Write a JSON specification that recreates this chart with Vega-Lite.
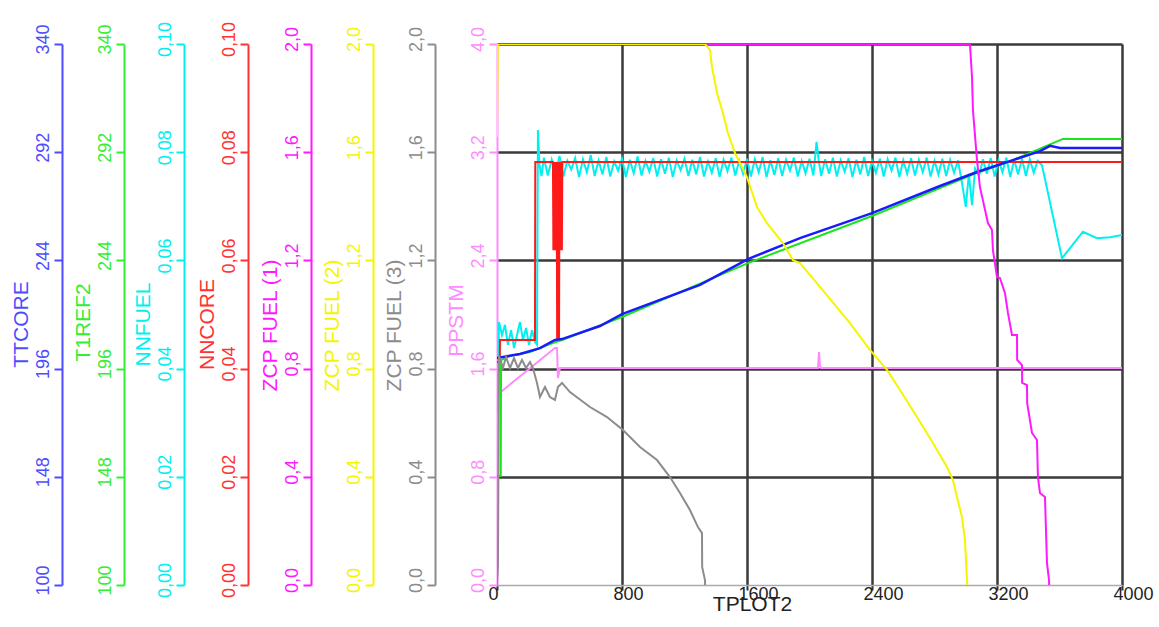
{
  "$schema": "https://vega.github.io/schema/vega-lite/v6.json",
  "width": 625,
  "height": 541,
  "autosize": {"type": "none"},
  "padding": {"left": 497, "top": 44, "right": 37, "bottom": 42},
  "background": "white",
  "config": {"view": {"stroke": null}, "axis": {"labelOverlap": false, "labelFlush": false}},
  "datasets": {
    "ppstm": [
      {"t": 0, "v": 1.405}, {"t": 371, "v": 1.752}, {"t": 384, "v": 1.752}, {"t": 390, "v": 1.53}, {"t": 403, "v": 1.604},
      {"t": 2054, "v": 1.604}, {"t": 2061, "v": 1.723}, {"t": 2067, "v": 1.619}, {"t": 2074, "v": 1.604}, {"t": 4000, "v": 1.604}
    ],
    "nnfuel": [
      {"t": 0, "v": 0.032}, {"t": 6, "v": 0.0379}, {"t": 13, "v": 0.0486}, {"t": 32, "v": 0.0462}, {"t": 51, "v": 0.0481},
      {"t": 70, "v": 0.0444}, {"t": 90, "v": 0.0471}, {"t": 109, "v": 0.0438}, {"t": 128, "v": 0.0462}, {"t": 147, "v": 0.0486},
      {"t": 166, "v": 0.0453}, {"t": 186, "v": 0.0475}, {"t": 205, "v": 0.0444}, {"t": 224, "v": 0.0471}, {"t": 243, "v": 0.0449},
      {"t": 256, "v": 0.0444}, {"t": 262, "v": 0.0841}, {"t": 272, "v": 0.0776}, {"t": 285, "v": 0.0756},
      {"t": 300, "v": 0.079}, {"t": 325, "v": 0.0757}, {"t": 350, "v": 0.0786}, {"t": 375, "v": 0.076}, {"t": 400, "v": 0.0793},
      {"t": 425, "v": 0.0755}, {"t": 450, "v": 0.0784}, {"t": 475, "v": 0.0768}, {"t": 500, "v": 0.0789}, {"t": 525, "v": 0.0754},
      {"t": 550, "v": 0.0787}, {"t": 575, "v": 0.0763}, {"t": 600, "v": 0.0795}, {"t": 625, "v": 0.0756}, {"t": 650, "v": 0.0785},
      {"t": 675, "v": 0.0759}, {"t": 700, "v": 0.0791}, {"t": 725, "v": 0.0755}, {"t": 750, "v": 0.0783}, {"t": 775, "v": 0.0766},
      {"t": 800, "v": 0.0788}, {"t": 825, "v": 0.0754}, {"t": 850, "v": 0.0786}, {"t": 875, "v": 0.0761}, {"t": 900, "v": 0.0792},
      {"t": 925, "v": 0.0757}, {"t": 950, "v": 0.0784}, {"t": 975, "v": 0.0764}, {"t": 1000, "v": 0.0789}, {"t": 1025, "v": 0.0755},
      {"t": 1050, "v": 0.0787}, {"t": 1075, "v": 0.076}, {"t": 1100, "v": 0.079}, {"t": 1125, "v": 0.0754}, {"t": 1150, "v": 0.0785},
      {"t": 1175, "v": 0.0767}, {"t": 1200, "v": 0.0788}, {"t": 1225, "v": 0.0756}, {"t": 1250, "v": 0.0786}, {"t": 1275, "v": 0.0759},
      {"t": 1300, "v": 0.0791}, {"t": 1325, "v": 0.0755}, {"t": 1350, "v": 0.0783}, {"t": 1375, "v": 0.0762}, {"t": 1400, "v": 0.0789},
      {"t": 1425, "v": 0.0754}, {"t": 1450, "v": 0.0786}, {"t": 1475, "v": 0.0765}, {"t": 1500, "v": 0.079}, {"t": 1525, "v": 0.0757},
      {"t": 1550, "v": 0.0784}, {"t": 1575, "v": 0.076}, {"t": 1600, "v": 0.0788}, {"t": 1625, "v": 0.0755}, {"t": 1650, "v": 0.0787},
      {"t": 1675, "v": 0.0763}, {"t": 1700, "v": 0.0791}, {"t": 1725, "v": 0.0754}, {"t": 1750, "v": 0.0785}, {"t": 1775, "v": 0.0758},
      {"t": 1800, "v": 0.0789}, {"t": 1825, "v": 0.0756}, {"t": 1850, "v": 0.0786}, {"t": 1875, "v": 0.0766}, {"t": 1900, "v": 0.079},
      {"t": 1925, "v": 0.0755}, {"t": 1950, "v": 0.0784}, {"t": 1975, "v": 0.0761}, {"t": 2000, "v": 0.0788}, {"t": 2025, "v": 0.0757},
      {"t": 2045, "v": 0.0819}, {"t": 2060, "v": 0.0782}, {"t": 2075, "v": 0.0756}, {"t": 2100, "v": 0.0787}, {"t": 2125, "v": 0.076},
      {"t": 2150, "v": 0.079}, {"t": 2175, "v": 0.0755}, {"t": 2200, "v": 0.0785}, {"t": 2225, "v": 0.0764}, {"t": 2250, "v": 0.0789},
      {"t": 2275, "v": 0.0754}, {"t": 2300, "v": 0.0786}, {"t": 2325, "v": 0.0759}, {"t": 2350, "v": 0.0791}, {"t": 2375, "v": 0.0756},
      {"t": 2400, "v": 0.0784}, {"t": 2425, "v": 0.0762}, {"t": 2450, "v": 0.0788}, {"t": 2475, "v": 0.0755}, {"t": 2500, "v": 0.0787},
      {"t": 2525, "v": 0.0766}, {"t": 2550, "v": 0.079}, {"t": 2575, "v": 0.0754}, {"t": 2600, "v": 0.0785}, {"t": 2625, "v": 0.076},
      {"t": 2650, "v": 0.0789}, {"t": 2675, "v": 0.0757}, {"t": 2700, "v": 0.0786}, {"t": 2725, "v": 0.0763}, {"t": 2750, "v": 0.079},
      {"t": 2775, "v": 0.0755}, {"t": 2800, "v": 0.0784}, {"t": 2825, "v": 0.0759}, {"t": 2850, "v": 0.0788}, {"t": 2875, "v": 0.0756},
      {"t": 2900, "v": 0.0786}, {"t": 2925, "v": 0.0762}, {"t": 2950, "v": 0.0785}, {"t": 2975, "v": 0.0745}, {"t": 3000, "v": 0.0699},
      {"t": 3020, "v": 0.076}, {"t": 3040, "v": 0.0702}, {"t": 3060, "v": 0.077}, {"t": 3085, "v": 0.0756}, {"t": 3110, "v": 0.0787},
      {"t": 3135, "v": 0.076}, {"t": 3160, "v": 0.0789}, {"t": 3185, "v": 0.0755}, {"t": 3210, "v": 0.0785}, {"t": 3235, "v": 0.0763},
      {"t": 3260, "v": 0.079}, {"t": 3285, "v": 0.0754}, {"t": 3310, "v": 0.0786}, {"t": 3335, "v": 0.0759}, {"t": 3360, "v": 0.0788},
      {"t": 3385, "v": 0.0756}, {"t": 3410, "v": 0.0787}, {"t": 3435, "v": 0.0762}, {"t": 3460, "v": 0.0784}, {"t": 3488, "v": 0.0776},
      {"t": 3616, "v": 0.0604}, {"t": 3750, "v": 0.0653}, {"t": 3840, "v": 0.0641}, {"t": 3923, "v": 0.0643}, {"t": 4000, "v": 0.0647}
    ],
    "nncore": [
      {"t": 0, "v": 0.0412}, {"t": 18, "v": 0.0412}, {"t": 19, "v": 0.0453}, {"t": 243, "v": 0.0453}, {"t": 245, "v": 0.0782},
      {"t": 358, "v": 0.0782}, {"t": 361, "v": 0.0619}, {"t": 364, "v": 0.0782}, {"t": 367, "v": 0.0619}, {"t": 370, "v": 0.0782},
      {"t": 373, "v": 0.0619}, {"t": 376, "v": 0.0782}, {"t": 379, "v": 0.0619}, {"t": 382, "v": 0.0782}, {"t": 385, "v": 0.0453},
      {"t": 388, "v": 0.0782}, {"t": 391, "v": 0.0619}, {"t": 394, "v": 0.0782}, {"t": 397, "v": 0.0453}, {"t": 400, "v": 0.0782},
      {"t": 403, "v": 0.0619}, {"t": 406, "v": 0.0782}, {"t": 409, "v": 0.0619}, {"t": 412, "v": 0.0782}, {"t": 415, "v": 0.0619},
      {"t": 418, "v": 0.0782}, {"t": 4000, "v": 0.0782}
    ],
    "t1ref2": [
      {"t": 0, "v": 148.4}, {"t": 24, "v": 148.4}, {"t": 26, "v": 199.8}, {"t": 83, "v": 201.6}, {"t": 211, "v": 203.4},
      {"t": 339, "v": 206.9}, {"t": 416, "v": 208.7}, {"t": 800, "v": 218.9}, {"t": 1606, "v": 242.8}, {"t": 2400, "v": 263.7},
      {"t": 3072, "v": 282.8}, {"t": 3302, "v": 288.5}, {"t": 3622, "v": 297.9}, {"t": 4000, "v": 297.9}
    ],
    "ttcore": [
      {"t": 0, "v": 200.7}, {"t": 147, "v": 202.5}, {"t": 275, "v": 205.1}, {"t": 371, "v": 208.7}, {"t": 416, "v": 209.1},
      {"t": 659, "v": 214.9}, {"t": 800, "v": 220.2}, {"t": 1299, "v": 233.1}, {"t": 1606, "v": 244.6}, {"t": 1939, "v": 253.9},
      {"t": 2400, "v": 265.0}, {"t": 2835, "v": 277.0}, {"t": 3072, "v": 283.2}, {"t": 3302, "v": 288.5}, {"t": 3475, "v": 292.5},
      {"t": 3539, "v": 294.8}, {"t": 3603, "v": 293.9}, {"t": 4000, "v": 293.9}
    ],
    "zcp3": [
      {"t": 0, "v": 0}, {"t": 6, "v": 0.074}, {"t": 13, "v": 0.847}, {"t": 38, "v": 0.802}, {"t": 58, "v": 0.843},
      {"t": 83, "v": 0.802}, {"t": 109, "v": 0.839}, {"t": 134, "v": 0.802}, {"t": 160, "v": 0.832}, {"t": 186, "v": 0.802},
      {"t": 211, "v": 0.824}, {"t": 230, "v": 0.802}, {"t": 256, "v": 0.747}, {"t": 275, "v": 0.695}, {"t": 307, "v": 0.732},
      {"t": 339, "v": 0.695}, {"t": 371, "v": 0.684}, {"t": 390, "v": 0.732}, {"t": 416, "v": 0.747}, {"t": 467, "v": 0.713},
      {"t": 595, "v": 0.658}, {"t": 704, "v": 0.621}, {"t": 806, "v": 0.573}, {"t": 915, "v": 0.51}, {"t": 1024, "v": 0.462},
      {"t": 1107, "v": 0.399}, {"t": 1171, "v": 0.34}, {"t": 1235, "v": 0.277}, {"t": 1286, "v": 0.214}, {"t": 1312, "v": 0.192},
      {"t": 1313, "v": 0.067}, {"t": 1331, "v": 0.018}, {"t": 1332, "v": 0}
    ],
    "zcp1": [
      {"t": 0, "v": 2.0}, {"t": 3027, "v": 2.0}, {"t": 3040, "v": 1.878}, {"t": 3046, "v": 1.756}, {"t": 3072, "v": 1.571},
      {"t": 3091, "v": 1.471}, {"t": 3142, "v": 1.338}, {"t": 3168, "v": 1.312}, {"t": 3174, "v": 1.238}, {"t": 3200, "v": 1.139},
      {"t": 3219, "v": 1.135}, {"t": 3251, "v": 1.079}, {"t": 3270, "v": 1.006}, {"t": 3296, "v": 0.924}, {"t": 3328, "v": 0.924},
      {"t": 3329, "v": 0.832}, {"t": 3360, "v": 0.813}, {"t": 3361, "v": 0.747}, {"t": 3392, "v": 0.739}, {"t": 3393, "v": 0.673},
      {"t": 3424, "v": 0.562}, {"t": 3456, "v": 0.536}, {"t": 3462, "v": 0.399}, {"t": 3475, "v": 0.34}, {"t": 3507, "v": 0.325},
      {"t": 3520, "v": 0.081}, {"t": 3533, "v": 0.018}, {"t": 3534, "v": 0}
    ],
    "zcp2": [
      {"t": 0, "v": 1.656}, {"t": 5, "v": 2.0}, {"t": 1331, "v": 2.0}, {"t": 1363, "v": 1.978}, {"t": 1376, "v": 1.915},
      {"t": 1408, "v": 1.819}, {"t": 1446, "v": 1.745}, {"t": 1478, "v": 1.671}, {"t": 1523, "v": 1.597}, {"t": 1600, "v": 1.508},
      {"t": 1664, "v": 1.397}, {"t": 1728, "v": 1.338}, {"t": 1830, "v": 1.264}, {"t": 1894, "v": 1.201}, {"t": 1939, "v": 1.19},
      {"t": 2067, "v": 1.102}, {"t": 2259, "v": 0.968}, {"t": 2387, "v": 0.869}, {"t": 2496, "v": 0.795}, {"t": 2579, "v": 0.721},
      {"t": 2688, "v": 0.621}, {"t": 2790, "v": 0.525}, {"t": 2880, "v": 0.436}, {"t": 2918, "v": 0.388}, {"t": 2944, "v": 0.325},
      {"t": 2976, "v": 0.251}, {"t": 2995, "v": 0.166}, {"t": 3008, "v": 0.018}, {"t": 3010, "v": 0}
    ]
  },
  "encoding": {
    "x": {
      "field": "t", "type": "quantitative",
      "scale": {"domain": [0, 4000], "nice": false, "zero": false},
      "axis": {
        "values": [0, 800, 1600, 2400, 3200, 4000], "format": "d",
        "grid": true, "gridColor": "#3a3a3a", "gridWidth": 2.5,
        "gridOpacity": {"condition": {"test": "datum.value === 0", "value": 0}, "value": 1},
        "domainColor": "#aaaaaa", "domainWidth": 1.5,
        "tickColor": "#333333", "tickWidth": 2, "tickSize": 5,
        "labelColor": "#222222", "labelFont": "Liberation Sans, sans-serif", "labelFontSize": 18,
        "labelAlign": "left", "labelBaseline": "top", "labelOffset": -9, "labelPadding": -5,
        "title": "TPLOT2", "titleFont": "Liberation Sans, sans-serif", "titleFontSize": 21,
        "titleFontWeight": "normal", "titleColor": "#222222", "titleX": 255, "titleY": 19,
        "titleBaseline": "middle", "titleAlign": "center"
      }
    }
  },
  "layer": [
    {
      "data": {"name": "ppstm"},
      "mark": {"type": "line", "color": "#ff8cff", "strokeWidth": 2, "clip": true},
      "encoding": {"y": {"field": "v", "type": "quantitative", "scale": {"domain": [0, 4], "nice": false, "zero": false},
        "axis": {"orient": "left", "offset": 0, "values": [0, 0.8, 1.6, 2.4, 3.2, 4.0], "format": ".1f", "labelExpr": "replace(datum.label, '.', ',')",
          "grid": true, "gridColor": "#3a3a3a", "gridWidth": 2.5,
          "gridOpacity": {"condition": {"test": "datum.value === 0", "value": 0}, "value": 1},
          "domainColor": "#ff8cff", "domainWidth": 2, "tickColor": "#ff8cff", "tickWidth": 2, "tickSize": 8,
          "labelColor": "#ff8cff", "labelAngle": -90, "labelAlign": "center", "labelBaseline": "middle", "labelPadding": 11, "labelOffset": -5,
          "labelFont": "Liberation Sans, sans-serif", "labelFontSize": 18,
          "title": "PPSTM", "titleColor": "#ff8cff", "titleFont": "Liberation Sans, sans-serif", "titleFontSize": 21,
          "titleFontWeight": "normal", "titleAngle": -90, "titleX": -41, "titleY": 276, "titleBaseline": "middle", "titleAlign": "center"}}}
    },
    {
      "data": {"name": "nnfuel"},
      "mark": {"type": "line", "color": "#00f0f0", "strokeWidth": 2, "clip": true},
      "encoding": {"y": {"field": "v", "type": "quantitative", "scale": {"domain": [0, 0.1], "nice": false, "zero": false},
        "axis": {"orient": "left", "offset": 313, "values": [0, 0.02, 0.04, 0.06, 0.08, 0.1], "format": ".2f", "labelExpr": "replace(datum.label, '.', ',')",
          "grid": false, "domainColor": "#00f0f0", "domainWidth": 2, "tickColor": "#00f0f0", "tickWidth": 2, "tickSize": 8,
          "labelColor": "#00f0f0", "labelAngle": -90, "labelAlign": "center", "labelBaseline": "middle", "labelPadding": 11, "labelOffset": -5,
          "labelFont": "Liberation Sans, sans-serif", "labelFontSize": 18,
          "title": "NNFUEL", "titleColor": "#00f0f0", "titleFont": "Liberation Sans, sans-serif", "titleFontSize": 21,
          "titleFontWeight": "normal", "titleAngle": -90, "titleX": -41, "titleY": 280, "titleBaseline": "middle", "titleAlign": "center"}}}
    },
    {
      "data": {"name": "nncore"},
      "mark": {"type": "line", "color": "#ff1a1a", "strokeWidth": 2, "clip": true},
      "encoding": {"y": {"field": "v", "type": "quantitative", "scale": {"domain": [0, 0.1], "nice": false, "zero": false},
        "axis": {"orient": "left", "offset": 249, "values": [0, 0.02, 0.04, 0.06, 0.08, 0.1], "format": ".2f", "labelExpr": "replace(datum.label, '.', ',')",
          "grid": false, "domainColor": "#ff3333", "domainWidth": 2, "tickColor": "#ff3333", "tickWidth": 2, "tickSize": 8,
          "labelColor": "#ff3333", "labelAngle": -90, "labelAlign": "center", "labelBaseline": "middle", "labelPadding": 11, "labelOffset": -5,
          "labelFont": "Liberation Sans, sans-serif", "labelFontSize": 18,
          "title": "NNCORE", "titleColor": "#ff3333", "titleFont": "Liberation Sans, sans-serif", "titleFontSize": 21,
          "titleFontWeight": "normal", "titleAngle": -90, "titleX": -41, "titleY": 280, "titleBaseline": "middle", "titleAlign": "center"}}}
    },
    {
      "data": {"name": "t1ref2"},
      "mark": {"type": "line", "color": "#19e619", "strokeWidth": 2, "clip": true},
      "encoding": {"y": {"field": "v", "type": "quantitative", "scale": {"domain": [100, 340], "nice": false, "zero": false},
        "axis": {"orient": "left", "offset": 373, "values": [100, 148, 196, 244, 292, 340], "format": "d",
          "grid": false, "domainColor": "#33ee33", "domainWidth": 2, "tickColor": "#33ee33", "tickWidth": 2, "tickSize": 8,
          "labelColor": "#33ee33", "labelAngle": -90, "labelAlign": "center", "labelBaseline": "middle", "labelPadding": 11, "labelOffset": -5,
          "labelFont": "Liberation Sans, sans-serif", "labelFontSize": 18,
          "title": "T1REF2", "titleColor": "#33ee33", "titleFont": "Liberation Sans, sans-serif", "titleFontSize": 21,
          "titleFontWeight": "normal", "titleAngle": -90, "titleX": -41, "titleY": 278, "titleBaseline": "middle", "titleAlign": "center"}}}
    },
    {
      "data": {"name": "ttcore"},
      "mark": {"type": "line", "color": "#1a1aff", "strokeWidth": 2.5, "clip": true},
      "encoding": {"y": {"field": "v", "type": "quantitative", "scale": {"domain": [100, 340], "nice": false, "zero": false},
        "axis": {"orient": "left", "offset": 435, "values": [100, 148, 196, 244, 292, 340], "format": "d",
          "grid": false, "domainColor": "#4d4dff", "domainWidth": 2, "tickColor": "#4d4dff", "tickWidth": 2, "tickSize": 8,
          "labelColor": "#4d4dff", "labelAngle": -90, "labelAlign": "center", "labelBaseline": "middle", "labelPadding": 11, "labelOffset": -5,
          "labelFont": "Liberation Sans, sans-serif", "labelFontSize": 18,
          "title": "TTCORE", "titleColor": "#4d4dff", "titleFont": "Liberation Sans, sans-serif", "titleFontSize": 21,
          "titleFontWeight": "normal", "titleAngle": -90, "titleX": -41, "titleY": 280, "titleBaseline": "middle", "titleAlign": "center"}}}
    },
    {
      "data": {"name": "zcp3"},
      "mark": {"type": "line", "color": "#8c8c8c", "strokeWidth": 2, "clip": true},
      "encoding": {"y": {"field": "v", "type": "quantitative", "scale": {"domain": [0, 2], "nice": false, "zero": false},
        "axis": {"orient": "left", "offset": 62, "values": [0, 0.4, 0.8, 1.2, 1.6, 2.0], "format": ".1f", "labelExpr": "replace(datum.label, '.', ',')",
          "grid": false, "domainColor": "#8c8c8c", "domainWidth": 2, "tickColor": "#8c8c8c", "tickWidth": 2, "tickSize": 8,
          "labelColor": "#8c8c8c", "labelAngle": -90, "labelAlign": "center", "labelBaseline": "middle", "labelPadding": 11, "labelOffset": -5,
          "labelFont": "Liberation Sans, sans-serif", "labelFontSize": 18,
          "title": "ZCP FUEL (3)", "titleColor": "#8c8c8c", "titleFont": "Liberation Sans, sans-serif", "titleFontSize": 21,
          "titleFontWeight": "normal", "titleAngle": -90, "titleX": -41, "titleY": 281, "titleBaseline": "middle", "titleAlign": "center"}}}
    },
    {
      "data": {"name": "zcp1"},
      "mark": {"type": "line", "color": "#ff19ff", "strokeWidth": 2, "clip": true},
      "encoding": {"y": {"field": "v", "type": "quantitative", "scale": {"domain": [0, 2], "nice": false, "zero": false},
        "axis": {"orient": "left", "offset": 186, "values": [0, 0.4, 0.8, 1.2, 1.6, 2.0], "format": ".1f", "labelExpr": "replace(datum.label, '.', ',')",
          "grid": false, "domainColor": "#ff19ff", "domainWidth": 2, "tickColor": "#ff19ff", "tickWidth": 2, "tickSize": 8,
          "labelColor": "#ff19ff", "labelAngle": -90, "labelAlign": "center", "labelBaseline": "middle", "labelPadding": 11, "labelOffset": -5,
          "labelFont": "Liberation Sans, sans-serif", "labelFontSize": 18,
          "title": "ZCP FUEL (1)", "titleColor": "#ff19ff", "titleFont": "Liberation Sans, sans-serif", "titleFontSize": 21,
          "titleFontWeight": "normal", "titleAngle": -90, "titleX": -41, "titleY": 281, "titleBaseline": "middle", "titleAlign": "center"}}}
    },
    {
      "data": {"name": "zcp2"},
      "mark": {"type": "line", "color": "#f5f500", "strokeWidth": 2, "clip": true},
      "encoding": {"y": {"field": "v", "type": "quantitative", "scale": {"domain": [0, 2], "nice": false, "zero": false},
        "axis": {"orient": "left", "offset": 124, "values": [0, 0.4, 0.8, 1.2, 1.6, 2.0], "format": ".1f", "labelExpr": "replace(datum.label, '.', ',')",
          "grid": false, "domainColor": "#f5f500", "domainWidth": 2, "tickColor": "#f5f500", "tickWidth": 2, "tickSize": 8,
          "labelColor": "#f5f500", "labelAngle": -90, "labelAlign": "center", "labelBaseline": "middle", "labelPadding": 11, "labelOffset": -5,
          "labelFont": "Liberation Sans, sans-serif", "labelFontSize": 18,
          "title": "ZCP FUEL (2)", "titleColor": "#f5f500", "titleFont": "Liberation Sans, sans-serif", "titleFontSize": 21,
          "titleFontWeight": "normal", "titleAngle": -90, "titleX": -41, "titleY": 281, "titleBaseline": "middle", "titleAlign": "center"}}}
    }
  ],
  "resolve": {"scale": {"y": "independent"}, "axis": {"y": "independent"}}
}
